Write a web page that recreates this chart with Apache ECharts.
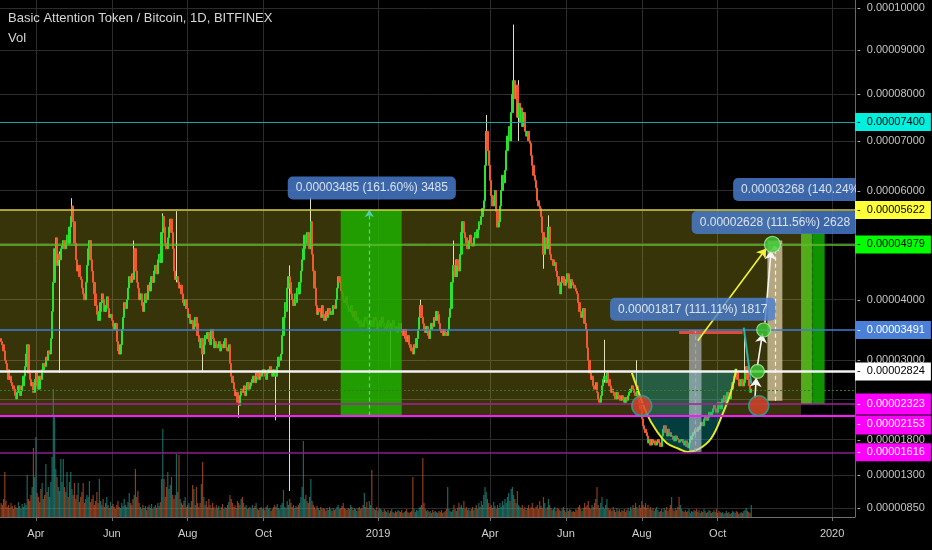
<!DOCTYPE html>
<html><head><meta charset="utf-8">
<script src="https://cdn.jsdelivr.net/npm/echarts@6/dist/echarts.min.js"></script>
<style>html,body{margin:0;padding:0;background:#000;}#c{width:932px;height:550px;}</style>
</head><body><div id="c"></div>
<script>
// ---------------- DATA (prices in 1e-8 BTC) ----------------
const startDate = '2018-03-04';
const firstOpen = 3350;
const closes = [
3300,3250,3150,3000,2950,2850,2700,2750,2650,2600,
2550,2450,2400,2500,2600,2450,2520,
2600,2750,2900,3100,3250,2800,2700,2600,
2650,2500,2700,2800,2600,2550,2750,2700,
2850,2950,2900,3050,3000,3150,3100,3350,
3800,4300,4900,5100,
4600,4800,4700,4900,
4950,5050,4900,5000,5150,5000,
5300,5500,5700,5400,
5000,4700,4500,4600,4400,4350,
4200,4100,4000,4300,
4600,4900,5050,4700,
4500,4300,4100,3900,3750,3650,3800,3950,
4100,4000,3800,3900,4050,3850,3700,3750,
3650,3550,3500,3600,
3300,3150,3100,3250,
3500,3700,3950,3850,
4000,4200,4400,4300,4450,4350,4900,4500,
4300,4200,4000,4100,3900,3800,3950,4100,4000,4250,4150,4300,
4400,4300,4500,4600,4450,4700,4800,4650,
5200,5500,5300,5000,
4900,5100,5300,5450,5200,4900,
4500,4350,4400,4300,4200,4250,
4100,3950,3900,4000,
3850,3700,3750,3600,3650,3500,3550,3700,
3600,3400,3300,3200,3350,3100,3250,3400,
3350,3450,3300,3250,3500,3350,3200,3300,
3250,3200,3300,3150,3250,3200,3300,3350,3200,3150,3250,
2950,2750,2650,
2550,2450,2500,2350,2300,2450,
2550,2500,2600,2450,2550,2650,2550,2600,
2650,2700,2750,2650,2800,2750,2700,2800,
2750,2800,2850,2750,2700,2800,2850,2900,2800,2750,2850,2800,
2750,
2900,3050,3000,3100,
3400,3700,3950,3800,
4200,4400,4300,4100,
4000,3900,4100,3950,4200,4100,4300,4500,
4700,4900,5150,5000,
5200,5000,4900,5400,4800,
4500,4200,3900,3750,3850,
3800,3700,3900,3750,3650,3800,3700,3850,3750,3800,
3750,3900,3850,4000,4200,4400,4300,4150,
4100,4000,3950,4050,3900,3850,3800,3900,3750,3700,3800,3650,3700,3600,3650,3550,
3600,3550,3650,3700,3600,3500,3550,3650,3600,3550,3700,3650,3500,3600,3550,3650,
3700,3600,3550,3500,3600,3650,3550,3500,3600,3650,3550,3500,3450,3550,3600,3500,
3450,3400,3500,3350,3300,3400,3250,3200,
3150,3100,3250,3200,
3350,3500,3700,3900,
3700,3600,3500,3450,3550,3400,3350,3500,3600,3550,3700,3650,
3800,3750,3600,3500,3450,3400,3500,3450,3400,3500,
3700,3850,
4300,4600,4500,4400,
4700,4600,4500,4800,
5200,5400,
5200,5100,5000,4900,5050,5150,5000,4950,5100,5200,
5100,5250,5400,5350,5500,5650,5800,
6500,7200,6800,
6500,6200,
5900,5700,5800,6000,
5600,5300,5400,5700,
6000,6300,6150,6400,
6800,7100,7300,7000,
7600,8000,8300,7900,
8200,7500,7800,7400,
7700,7300,7600,7200,
7100,7200,7000,6950,
6700,6500,6300,6200,
6050,5800,5700,5650,
5500,5200,4800,5100,
5000,4900,5300,4800,4700,
4700,4600,4650,4500,
4400,4250,4100,4300,
4400,4300,4250,4350,4450,4300,4200,4350,
4300,4250,4200,4150,
4100,3950,3800,3700,
3750,3850,3600,3500,
3200,3000,2800,2700,
2750,2600,2550,2650,
2500,2400,2350,2450,
2600,2700,2750,2650,
2800,2700,2600,2500,
2550,2500,2450,2400,2500,2450,2400,2380,
2450,2400,2350,2420,2380,2450,2500,2550,
2600,2550,2500,2450,2600,
2400,2350,2250,
2100,2000,1950,1900,
1850,1750,1800,1720,
1800,1750,1780,1720,1760,1800,1750,1700,
1850,1950,2000,1900,1850,1950,1900,1850,
1850,1800,1780,1850,1820,1800,1760,1780,
1800,1750,1720,1780,1700,1680,1750,1800,
1850,1900,1880,1950,1920,1980,1950,2000,
2050,2000,2100,2150,2080,2120,2200,2150,
2200,2250,2300,2250,2200,2350,2300,2250,
2350,2400,2450,2350,2420,2500,2450,2400,
2550,2650,2750,2850,2800,2700,2600,2650,
2700,2600,2650,2800,
2900,2700,2600,2500,2550
];
// long wicks: [candle index, low, high]
const spikes = [
[47,2800,4850],[57,5450,5850],[107,4400,5050],[130,5150,5560],[141,4300,5600],
[162,2830,3350],[191,2120,2350],[221,2080,2800],[232,1080,4600],[249,4900,5870],
[313,2870,3600],[337,3700,4000],[364,4400,5050],[390,6500,7550],[412,7900,9600],
[416,7000,8311],[436,4540,5200],[440,4900,5520],[485,2650,3330],[511,2450,3000],[598,2650,3480]
];
const volumes = [
14,12,18,45,16,10,12,9,14,11, 8,12,10,9,15,11,8,13,10,14, 12,42,18,16,22,30,69,40,80,24,
20,15,28,34,18,22,53,25,30,20, 35,60,128,100,48,40,30,26,58,35, 58,30,25,45,20,35,45,28,22,34,
18,22,34,15,20,25,34,14,18,22, 20,36,15,18,22,12,16,25,14,38, 16,12,18,10,14,20,12,9,15,11,
13,10,8,12,16,10,9,14,11,18, 12,10,15,24,14,12,18,22,48,20, 26,14,10,8,12,9,11,7,10,12,
9,13,8,10,12,9,14,11,15,38, 88,38,20,30,45,28,32,40,22,18, 22,63,25,62,18,14,12,16,20,10,
12,14,10,16,32,28,12,30,14,10, 14,33,55,20,12,16,10,18,12,9, 14,10,8,12,9,11,7,10,13,8,
10,9,12,15,22,18,14,10,12,9, 16,14,12,18,20,14,10,12,8,9, 10,8,12,9,11,14,8,7,9,10,
8,9,7,10,12,8,9,6,8,10, 12,10,13,9,8,12,14,27,10,9, 16,12,18,14,10,12,9,11,10,12,
14,20,30,76,18,22,16,14,20,38, 16,12,10,8,11,9,7,10,8,9, 8,6,9,7,10,8,6,9,7,8,
10,12,8,9,11,14,9,8,7,9, 8,12,10,7,9,8,6,9,10,8, 9,12,24,10,15,9,16,12,47,9,
8,7,10,6,9,8,7,5,8,6, 5,7,4,6,8,5,4,6,5,7, 6,5,7,4,5,6,8,5,4,5,
6,40,8,5,7,6,9,10,12,59, 14,8,6,7,5,6,4,7,5,6, 5,4,6,5,7,4,5,6,8,30,
8,6,5,7,12,8,6,9,14,10, 12,9,16,8,10,7,9,6,8,10, 7,9,12,8,14,10,16,12,22,30,
25,18,14,10,12,9,15,11,8,12, 9,14,10,16,12,18,14,20,24,16, 28,30,22,18,14,26,12,10,9,12,
8,10,7,9,12,8,10,14,9,8, 10,12,8,16,11,9,20,14,8,10, 18,12,9,7,8,10,6,9,8,7,
6,8,10,7,5,9,6,8,7,5, 6,5,8,7,10,12,8,6,9,14, 10,12,16,9,8,12,10,14,18,30,
12,9,14,20,10,8,12,18,9,7, 8,6,10,7,5,9,6,8,5,7, 6,8,5,7,9,6,10,8,12,9,
14,10,8,12,9,16,12,10,14,9, 12,8,10,7,9,6,8,10,7,5, 6,8,5,9,7,10,6,8,12,20,
8,6,9,7,10,20,12,8,6,5, 7,5,6,8,4,6,5,7,6,8, 5,7,4,6,5,8,6,4,5,7,
6,4,5,7,5,8,4,6,5,4, 5,3,4,6,4,5,3,4,6,5, 4,6,5,3,4,5,4,6,7,9,
6,5,4,12
];
const xTickDates = ['2018-04-01','2018-06-01','2018-08-01','2018-10-01','2019-01-01','2019-04-01','2019-06-01','2019-08-01','2019-10-01','2020-01-01'];
const xTickLabels = ['Apr','Jun','Aug','Oct','2019','Apr','Jun','Aug','Oct','2020'];
const xRange = ['2018-03-03T03:20:00Z','2020-01-19T09:30:00Z'];
const priceTicks = [10000,9000,8000,7000,6000,5000,4000,3000,2400,1800,1300,850];
const priceRange = [733,10197];
const levelPrices = [7400,5622,4979,3491,2824,2153,2323,1616];
const minorLevel = [2530];
// drawings (time / price anchors)
const oliveZone = ['2018-02-01','2019-12-07',2153,5622];
const greenZone = ['2018-12-02','2019-01-20',2153,5622];
const targetBars = [['2019-12-07','2019-12-16',2323,5180],['2019-12-16','2019-12-26',2323,5180]];
const tanZone = ['2019-11-10','2019-11-22',2371,5050];
const greyZone = ['2019-09-08','2019-09-18',1616,3491];
const redLine = ['2019-08-31','2019-10-21',3450];
const dashLines = [['2018-12-25',2153,5622],['2019-09-13',1616,3491],['2019-11-16',2371,4979],['2019-12-16',2323,5180]];
const cupDates = ['2019-07-24','2019-07-30','2019-08-05','2019-08-13','2019-08-21','2019-08-31','2019-09-07','2019-09-16','2019-09-26','2019-10-05','2019-10-12','2019-10-16'];
const cupPrices = [2802,2478,2176,1924,1750,1664,1620,1664,1822,2176,2524,2866];
const cupBase = 2824;
const redDots = [['2019-08-01',2296],['2019-11-03',2296]];
const greenDots = [['2019-11-02',2824],['2019-11-07',3491],['2019-11-14',4979]];
const arrows = [['2019-10-31',2418,'2019-11-01',2724],['2019-11-02',2914,'2019-11-06',3430],['2019-11-08',3612,'2019-11-13',4868],['2019-09-15',3314,'2019-11-09',4904]];
const tealStroke = ['2019-10-22',3530,'2019-10-28',2632];
const measureDates = ['2018-12-27','2019-09-11','2019-11-16','2019-12-20'];
const measurePrices = [6050,3838,5386,6021];
const measureTexts = ['0.00003485 (161.60%) 3485','0.00001817 (111.11%) 1817','0.00002628 (111.56%) 2628','0.00003268 (140.24%) 3268'];

// ---------------- BUILD ----------------
const OFF = 10000; // reference price scale ~ log(price + offset)
const DAY = 86400000;
const FONT = 'Liberation Sans';
const CLEAR = 'rgba(0,0,0,0)';
const ts = s => Date.parse(s.length === 10 ? s + 'T00:00:00Z' : s);
const Y = p => p + OFF;
const fmt = p => (p / 1e8).toFixed(8);
const t0 = ts(startDate);
const UP = '#2be02f', DOWN = '#f05a2e';

const candleData = [], volData = [];
let prev = firstOpen;
closes.forEach((c, i) => {
  const t = t0 + i * DAY;
  candleData.push([t, Y(prev), Y(c), Y(Math.min(prev, c)), Y(Math.max(prev, c))]);
  volData.push({value: [t, volumes[i]], itemStyle: {color: c >= prev ? 'rgba(38,166,154,0.62)' : 'rgba(226,100,48,0.62)'}});
  prev = c;
});
const wickData = spikes.map(s => [t0 + s[0] * DAY, Y(s[1]), Y(s[2]), Y(s[1]), Y(s[2])]);

const levelStyles = [
  {line: '#13a9a6', w: 1.2, bg: '#00f0e0', fg: '#000'},
  {line: '#d8cf45', w: 1.6, bg: '#ffff3a', fg: '#000'},
  {line: '#5cbf2e', w: 1.6, bg: '#00ff00', fg: '#000'},
  {line: '#3e7fd2', w: 1.6, bg: '#4a80d8', fg: '#fff'},
  {line: '#f2f2f2', w: 2.5, bg: '#ffffff', fg: '#000'},
  {line: '#ff18ff', w: 2, bg: '#ff00ff', fg: '#fff', va: 'top', pad: [3, 6, 5, 2]},
  {line: '#a3209f', w: 1.6, bg: '#ff00ff', fg: '#fff', pad: [4, 6, 6, 2]},
  {line: '#8e1c8e', w: 1.6, bg: '#ff00ff', fg: '#fff'}
];

const xTickTs = xTickDates.map(ts);
const labelOf = {};
xTickTs.forEach((t, i) => labelOf[t] = xTickLabels[i]);

const blank = {type: 'line', data: [], symbol: 'none', silent: true, animation: false};

const levelLabel = (p, i) => {
  const s = levelStyles[i];
  const lab = {show: true, position: 'end', formatter: '{b}', distance: 0, color: s.fg, backgroundColor: s.bg,
    fontSize: 11, fontFamily: FONT, padding: s.pad || [4, 6, 3, 2]};
  if (s.va) lab.verticalAlign = s.va;
  return {yAxis: Y(p), name: '-  ' + fmt(p), label: lab};
};

const option = {
  backgroundColor: '#000',
  animation: false,
  title: [
    {text: 'Basic Attention Token / Bitcoin, 1D, BITFINEX', left: 8, top: 12, padding: 0, textStyle: {color: '#d6d6d6', fontSize: 13, fontWeight: 'normal', fontFamily: FONT}},
    {text: 'Vol', left: 8, top: 32, padding: 0, textStyle: {color: '#d6d6d6', fontSize: 13, fontWeight: 'normal', fontFamily: FONT}}
  ],
  grid: {left: 0, right: 77, top: 0, bottom: 33},
  xAxis: {
    type: 'value', min: ts(xRange[0]), max: ts(xRange[1]),
    axisLine: {lineStyle: {color: '#707070'}},
    axisTick: {show: true, customValues: xTickTs, length: 4, lineStyle: {color: '#707070'}},
    axisLabel: {customValues: xTickTs, formatter: v => labelOf[v] || '', color: '#cfcfcf', fontSize: 11, margin: 11, fontFamily: FONT},
    splitLine: {show: false}
  },
  yAxis: [
    {type: 'log', logBase: 10, min: Y(priceRange[0]), max: Y(priceRange[1]), position: 'right',
     axisLine: {show: true, lineStyle: {color: '#6a6a60'}}, axisTick: {show: false}, axisLabel: {show: false}, splitLine: {show: false}},
    {type: 'value', min: 0, max: 517, show: false}
  ],
  graphic: [{type: 'rect', left: 856, top: 0, shape: {width: 76, height: 517}, style: {fill: '#000'}, z: 50, silent: true}],
  series: [
    Object.assign({}, blank, {z: 1, markLine: {z: 1, silent: true, symbol: ['none', 'none'], animation: false, label: {show: false},
      lineStyle: {color: '#2c2c2c', width: 1, type: 'solid'},
      data: priceTicks.map(p => ({yAxis: Y(p)})).concat(xTickTs.map(t => ({xAxis: t})))}}),
    Object.assign({}, blank, {z: 2, markArea: {z: 2, silent: true, animation: false, itemStyle: {color: 'rgba(255,236,40,0.22)'},
      data: [[{coord: [ts(oliveZone[0]), Y(oliveZone[3])]}, {coord: [ts(oliveZone[1]), Y(oliveZone[2])]}]]}}),
    {type: 'bar', name: 'Vol', yAxisIndex: 1, z: 3, barWidth: 1.2, data: volData, animation: false, large: false},
    {type: 'candlestick', z: 4, barWidth: 1, large: false, animation: false, data: wickData,
     itemStyle: {color: '#e4dfb8', color0: '#e4dfb8', borderColor: '#e4dfb8', borderColor0: '#e4dfb8', borderWidth: 1}},
    {type: 'candlestick', z: 5, barWidth: 1.8, large: false, animation: false, data: candleData,
     itemStyle: {color: UP, color0: DOWN, borderColor: UP, borderColor0: DOWN, borderWidth: 1}},
    {type: 'line', z: 6, smooth: 0.4, symbol: 'none', silent: true, animation: false,
     data: cupDates.map((d, i) => [ts(d), Y(cupPrices[i])]),
     lineStyle: {color: '#e6e62a', width: 2},
     areaStyle: {color: 'rgba(10,160,160,0.55)', origin: Y(cupBase)}},
    Object.assign({}, blank, {z: 7,
      markArea: {z: 7, silent: true, animation: false, data: [
        [{coord: [ts(greenZone[0]), Y(greenZone[3])], itemStyle: {color: 'rgba(30,175,0,0.86)'}}, {coord: [ts(greenZone[1]), Y(greenZone[2])]}],
        [{coord: [ts(targetBars[0][0]), Y(targetBars[0][3])], itemStyle: {color: 'rgba(88,186,28,0.92)'}}, {coord: [ts(targetBars[0][1]), Y(targetBars[0][2])]}],
        [{coord: [ts(targetBars[1][0]), Y(targetBars[1][3])], itemStyle: {color: 'rgba(18,158,0,0.92)'}}, {coord: [ts(targetBars[1][1]), Y(targetBars[1][2])]}],
        [{coord: [ts(tanZone[0]), Y(tanZone[3])], itemStyle: {color: 'rgba(212,196,158,0.8)'}}, {coord: [ts(tanZone[1]), Y(tanZone[2])]}],
        [{coord: [ts(greyZone[0]), Y(greyZone[3])], itemStyle: {color: 'rgba(192,202,216,0.6)'}}, {coord: [ts(greyZone[1]), Y(greyZone[2])]}]
      ]},
      markLine: {z: 8, silent: true, animation: false, symbol: ['none', 'none'], label: {show: false}, data: [
        [{coord: [ts(redLine[0]), Y(redLine[2])], lineStyle: {color: '#e04a34', width: 3, type: 'solid'}}, {coord: [ts(redLine[1]), Y(redLine[2])]}]
      ].concat(dashLines.map((d, i) => [
        {coord: [ts(d[0]), Y(d[1])], lineStyle: {color: ['#4fd0b4', '#9aa8c0', '#f0f0f0', '#0c6e00'][i], width: 1.2, type: [4, 3]}, symbol: 'none'},
        {coord: [ts(d[0]), Y(d[2])], symbol: i === 0 || i === 2 ? 'arrow' : 'none', symbolSize: 7}
      ]))}}),
    Object.assign({}, blank, {z: 8, markLine: {z: 8, silent: true, animation: false, symbol: ['none', 'none'], label: {show: false},
      data: levelPrices.map((p, i) => ({yAxis: Y(p), lineStyle: {color: levelStyles[i].line, width: levelStyles[i].w, type: 'solid'}}))
        .concat(minorLevel.map(p => ({yAxis: Y(p), lineStyle: {color: '#2f7d22', width: 1, type: [2, 2]}})))}}),
    {type: 'scatter', z: 9, silent: true, animation: false,
     data: redDots.map(d => ({value: [ts(d[0]), Y(d[1])], symbolSize: 20, itemStyle: {color: '#d8432a', borderColor: '#23a7a0', borderWidth: 1.5}}))
       .concat(greenDots.map((d, i) => ({value: [ts(d[0]), Y(d[1])], symbolSize: i === 2 ? 16 : 14, itemStyle: {color: '#3ccb34', borderColor: '#a6eea0', borderWidth: 1.2}}))),
     markLine: {z: 9, silent: true, animation: false, symbol: ['none', 'arrow'], symbolSize: 9, label: {show: false},
       data: arrows.map((a, i) => [
         {coord: [ts(a[0]), Y(a[1])], lineStyle: {color: i === 3 ? '#f2f23a' : '#f4f4f4', width: 1.6, type: 'solid'}},
         {coord: [ts(a[2]), Y(a[3])]}
       ]).concat([[
         {coord: [ts(tealStroke[0]), Y(tealStroke[1])], lineStyle: {color: '#2bb3a4', width: 2, type: 'solid'}, symbol: 'none'},
         {coord: [ts(tealStroke[2]), Y(tealStroke[3])], symbol: 'none'}
       ]])}},
    {type: 'scatter', z: 10, silent: true, animation: false, symbolSize: 2, itemStyle: {color: CLEAR},
     data: measureDates.map((d, i) => ({name: measureTexts[i], value: [ts(d), Y(measurePrices[i])]})),
     label: {show: true, position: 'inside', formatter: '{b}', color: '#ffffff', fontSize: 12, fontFamily: FONT,
       backgroundColor: '#4a80d4', borderRadius: 5, padding: [6, 8, 5, 8]}},
    Object.assign({}, blank, {z: 60, markLine: {z: 60, silent: true, animation: false, symbol: ['none', 'none'],
      lineStyle: {color: CLEAR, width: 1},
      label: {show: true, position: 'end', formatter: '{b}', color: '#c4c4c4', fontSize: 11, fontFamily: FONT, distance: 2},
      data: priceTicks.map(p => ({yAxis: Y(p), name: '-  ' + fmt(p)}))}}),
    Object.assign({}, blank, {z: 61, markLine: {z: 61, silent: true, animation: false, symbol: ['none', 'none'],
      lineStyle: {color: CLEAR, width: 1},
      data: levelPrices.map(levelLabel)}})
  ]
};
const chart = echarts.init(document.getElementById('c'), null, {renderer: 'canvas'});
chart.setOption(option);
</script></body></html>
